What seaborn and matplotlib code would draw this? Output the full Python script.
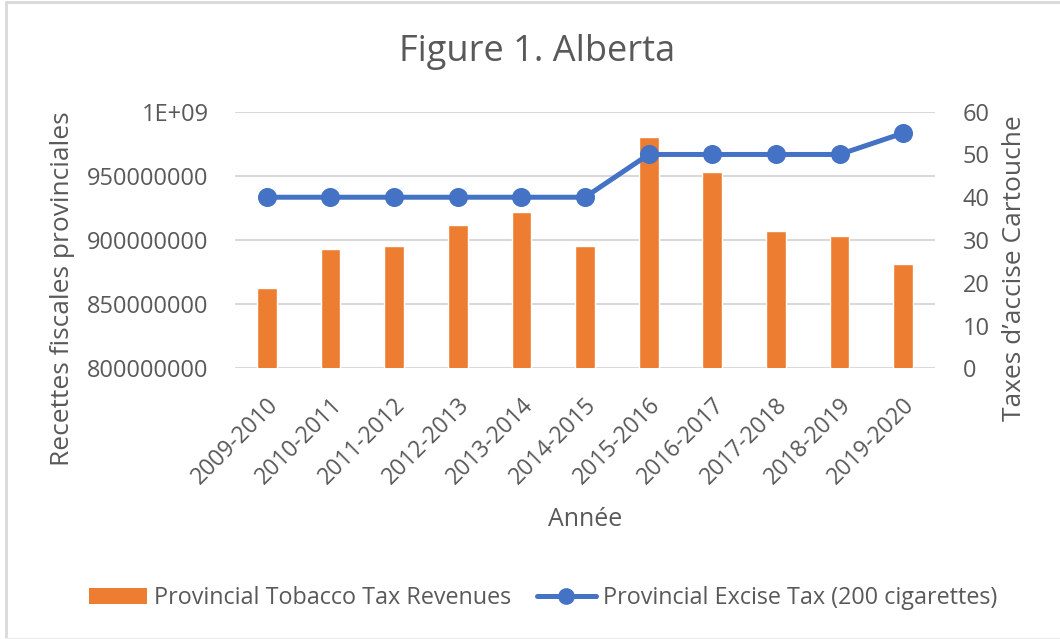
import matplotlib
matplotlib.use("Agg")
import matplotlib.pyplot as plt
import matplotlib.transforms as mtransforms
from matplotlib.lines import Line2D
from matplotlib.patches import Patch
import seaborn as sns
import pandas as pd

# Fiscal years
years = ["2009-2010", "2010-2011", "2011-2012", "2012-2013", "2013-2014",
         "2014-2015", "2015-2016", "2016-2017", "2017-2018", "2018-2019",
         "2019-2020"]
# Provincial tobacco tax revenues ($)
revenues = [862.8e6, 892.7e6, 895.3e6, 911.7e6, 921.6e6,
            895.3e6, 980.0e6, 952.8e6, 907.3e6, 903.1e6, 881.0e6]
# Provincial excise tax per carton of 200 cigarettes ($)
excise = [40, 40, 40, 40, 40, 40, 50, 50, 50, 50, 55]

left_ticks = [800000000, 850000000, 900000000, 950000000, 1000000000]
left_labels = ["800000000", "850000000", "900000000", "950000000", "1E+09"]
right_ticks = [0, 10, 20, 30, 40, 50, 60]

ORANGE = "#ED7D31"
BLUE = "#4472C4"
TEXT = "#595959"
GRID = "#D9D9D9"

sns.set_theme(style="white")
plt.rcParams["font.family"] = ["Open Sans", "DejaVu Sans"]

df = pd.DataFrame({"year": years, "revenue": revenues, "excise": excise})

fig = plt.figure(figsize=(10.6, 6.39), dpi=100)
ax = fig.add_axes([235 / 1060, 1 - 368.3 / 639, 700 / 1060, 256.6 / 639])

sns.barplot(data=df, x="year", y="revenue", color=ORANGE, width=0.31,
            saturation=1, ax=ax, zorder=2)
ax.set_ylim(800e6, 1000e6)
ax.set_yticks(left_ticks)
ax.set_yticklabels(left_labels)
ax.set_xlim(-0.5, len(years) - 0.5)
ax.yaxis.grid(True, color=GRID, linewidth=1.5, zorder=0)
ax.set_axisbelow(True)
for s in ax.spines.values():
    s.set_visible(False)
ax.tick_params(axis="both", length=0, colors=TEXT)
ax.tick_params(axis="y", labelsize=17, pad=19)
ax.tick_params(axis="x", labelsize=16.5, pad=24)
shift = mtransforms.ScaledTranslation(8 / 100, 0, fig.dpi_scale_trans)
for lbl in ax.get_xticklabels():
    lbl.set_rotation(45)
    lbl.set_ha("right")
    lbl.set_va("center")
    lbl.set_rotation_mode("anchor")
    lbl.set_transform(lbl.get_transform() + shift)
ax.set_xlabel("Année", fontsize=18, color=TEXT)
ax.xaxis.set_label_coords(0.5, -0.59)
ax.xaxis.label.set_va("center")
ax.set_ylabel("Recettes fiscales provinciales", fontsize=19, color=TEXT)
ax.yaxis.set_label_coords(-0.247, 0.31)
ax.yaxis.label.set_va("center")

ax2 = ax.twinx()
sns.pointplot(data=df, x="year", y="excise", color=BLUE, markers="o",
              markersize=11, linewidth=3.6, ax=ax2)
ax2.set_ylim(0, 60)
ax2.set_yticks(right_ticks)
ax2.set_xlim(-0.5, len(years) - 0.5)
for s in ax2.spines.values():
    s.set_visible(False)
ax2.tick_params(axis="y", length=0, labelsize=17, colors=TEXT, pad=20)
ax2.set_ylabel("Taxes d’accise Cartouche", fontsize=19, color=TEXT)
ax2.yaxis.set_label_coords(1.114, 0.39)
ax2.yaxis.label.set_va("center")
ax2.grid(False)

fig.text(537 / 1060, 1 - 52 / 639, "Figure 1. Alberta", ha="center",
         va="center", fontsize=26, color=TEXT)

handles = [
    Patch(facecolor=ORANGE, edgecolor="none",
          label="Provincial Tobacco Tax Revenues"),
    Line2D([0], [0], color=BLUE, linewidth=3.6, marker="o", markersize=11,
           label="Provincial Excise Tax (200 cigarettes)"),
]
fig.legend(handles=handles, loc="center", ncol=2,
           bbox_to_anchor=(543 / 1060, 1 - 598 / 639), frameon=False,
           fontsize=16.8, labelcolor=TEXT, handlelength=2.5,
           handletextpad=0.3, columnspacing=1.1)

# Outer chart frame
fig.add_artist(Line2D([6 / 1060, 6 / 1060], [0.003, 1 - 2 / 639],
                      transform=fig.transFigure, color="#D9D9D9", linewidth=2))
fig.add_artist(Line2D([6 / 1060, 1.0], [1 - 2 / 639, 1 - 2 / 639],
                      transform=fig.transFigure, color="#D9D9D9", linewidth=2))
fig.add_artist(Line2D([6 / 1060, 1.0], [0.002, 0.002],
                      transform=fig.transFigure, color="#EEEEEE", linewidth=1))

fig.savefig("out.png", dpi=100)
